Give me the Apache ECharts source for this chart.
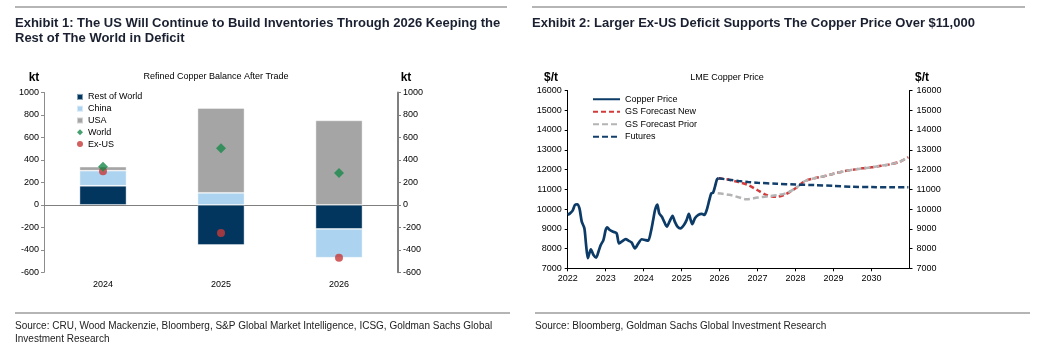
<!DOCTYPE html>
<html>
<head>
<meta charset="UTF-8">
<title>Copper</title>
<script src="https://cdn.jsdelivr.net/npm/echarts@6/dist/echarts.min.js"></script>
<style>
	body { margin: 0; background: #fff; }
	#main { width: 1039px; height: 351px; }
</style>
</head>
<body>
	<div id="main"></div>
	<script type="text/javascript">
		// Exhibit 1 - balance by region (kt)
		var years = [ '2024', '2025', '2026' ];
		var restOfWorld = [ 170, -357, -214 ];
		var china = [ 134, 107, -256 ];
		var usa = [ 36, 755, 752 ];
		var world = [ 340, 505, 283 ];
		var exUS = [ 300, -250, -470 ];

		// Exhibit 2 - LME copper price ($/t), [year fraction, price]
		var copperPrice = [ [ 2022.00, 9700 ], [ 2022.06, 9780 ], [ 2022.13, 9920 ],
				[ 2022.19, 10200 ], [ 2022.25, 10240 ], [ 2022.31, 10030 ],
				[ 2022.37, 9360 ], [ 2022.44, 9020 ], [ 2022.48, 8260 ],
				[ 2022.53, 7510 ], [ 2022.57, 7760 ], [ 2022.61, 7960 ],
				[ 2022.68, 7670 ], [ 2022.75, 7540 ], [ 2022.81, 7840 ],
				[ 2022.87, 8180 ], [ 2022.94, 8430 ], [ 2023.00, 8940 ],
				[ 2023.04, 9070 ], [ 2023.11, 8940 ], [ 2023.20, 8850 ],
				[ 2023.29, 8770 ], [ 2023.35, 8260 ], [ 2023.42, 8350 ],
				[ 2023.53, 8480 ], [ 2023.60, 8400 ], [ 2023.68, 8310 ],
				[ 2023.77, 8010 ], [ 2023.86, 8260 ], [ 2023.95, 8470 ],
				[ 2024.04, 8430 ], [ 2024.12, 8400 ], [ 2024.19, 8850 ],
				[ 2024.25, 9440 ], [ 2024.30, 9950 ], [ 2024.36, 10220 ],
				[ 2024.41, 9780 ], [ 2024.48, 9610 ], [ 2024.54, 9360 ],
				[ 2024.61, 9110 ], [ 2024.68, 9360 ], [ 2024.76, 9660 ],
				[ 2024.82, 9360 ], [ 2024.89, 9110 ], [ 2024.97, 9020 ],
				[ 2025.06, 9190 ], [ 2025.13, 9440 ], [ 2025.19, 9750 ],
				[ 2025.24, 9440 ], [ 2025.28, 9230 ], [ 2025.35, 9530 ],
				[ 2025.44, 9700 ], [ 2025.53, 9750 ], [ 2025.60, 9700 ],
				[ 2025.66, 9950 ], [ 2025.73, 10460 ], [ 2025.78, 10790 ],
				[ 2025.83, 10830 ], [ 2025.88, 11150 ], [ 2025.93, 11500 ],
				[ 2025.97, 11560 ] ];
		var gsForecastNew = [ [ 2025.97, 11560 ], [ 2026.25, 11480 ],
				[ 2026.50, 11360 ], [ 2026.75, 11220 ], [ 2027.00, 10950 ],
				[ 2027.25, 10700 ], [ 2027.50, 10620 ], [ 2027.75, 10760 ],
				[ 2028.00, 11050 ], [ 2028.25, 11420 ], [ 2028.50, 11560 ],
				[ 2028.75, 11660 ], [ 2029.00, 11790 ], [ 2029.25, 11900 ],
				[ 2029.50, 11990 ], [ 2029.75, 12060 ], [ 2030.00, 12110 ],
				[ 2030.25, 12190 ], [ 2030.50, 12270 ], [ 2030.75, 12400 ],
				[ 2030.97, 12630 ] ];
		var gsForecastPrior = [ [ 2025.95, 10800 ], [ 2026.25, 10720 ],
				[ 2026.50, 10600 ], [ 2026.70, 10490 ], [ 2027.00, 10580 ],
				[ 2027.25, 10640 ], [ 2027.50, 10700 ], [ 2027.75, 10800 ],
				[ 2028.00, 11050 ], [ 2028.25, 11420 ], [ 2028.50, 11560 ],
				[ 2028.75, 11660 ], [ 2029.00, 11790 ], [ 2029.25, 11900 ],
				[ 2029.50, 11990 ], [ 2029.75, 12060 ], [ 2030.00, 12110 ],
				[ 2030.25, 12190 ], [ 2030.50, 12270 ], [ 2030.75, 12400 ],
				[ 2030.97, 12630 ] ];
		var futures = [ [ 2025.97, 11560 ], [ 2026.25, 11480 ],
				[ 2026.50, 11420 ], [ 2026.75, 11370 ], [ 2027.00, 11330 ],
				[ 2027.50, 11280 ], [ 2028.00, 11240 ], [ 2028.50, 11210 ],
				[ 2029.00, 11170 ], [ 2029.50, 11130 ], [ 2030.00, 11110 ],
				[ 2030.50, 11100 ], [ 2030.97, 11100 ] ];

		var FONT = 'Liberation Sans, Arial, sans-serif';
		var navy = '#02365f';

		var chart = echarts.init(document.getElementById('main'));

		function txt(x, y, s, size, align, opt) {
			var st = {
				text : s,
				x : x,
				y : y,
				fill : '#000',
				font : (size || 9) + 'px ' + FONT,
				align : align || 'left',
				verticalAlign : 'middle'
			};
			if (opt) {
				for ( var k in opt)
					st[k] = opt[k];
			}
			return {
				type : 'text',
				silent : true,
				style : st
			};
		}
		function hline(x1, x2, y) {
			return {
				type : 'line',
				silent : true,
				shape : {
					x1 : x1,
					y1 : y,
					x2 : x2,
					y2 : y
				},
				style : {
					stroke : '#9c9c9c',
					lineWidth : 1.5
				}
			};
		}
		// plain numbers on the value axes, no thousands separator
		function plain(v) {
			return String(v);
		}

		var exhibitTitle = {
			fontFamily : FONT,
			fontWeight : 'bold',
			fontSize : 13,
			lineHeight : 15.5,
			color : '#1a2030'
		};

		chart.setOption({
			animation : false,
			textStyle : {
				fontFamily : FONT
			},
			title : [ {
				text : 'Exhibit 1: The US Will Continue to Build Inventories Through 2026 Keeping the\nRest of The World in Deficit',
				left : 15,
				top : 15.5,
				padding : 0,
				textStyle : exhibitTitle
			}, {
				text : 'Exhibit 2: Larger Ex-US Deficit Supports The Copper Price Over $11,000',
				left : 532,
				top : 15.5,
				padding : 0,
				textStyle : exhibitTitle
			} ],
			graphic : [ hline(15, 507, 7), hline(532, 1025, 7),
					hline(15, 510, 313), hline(535, 1030, 313),
					txt(216, 77, 'Refined Copper Balance After Trade', 9, 'center'),
					txt(727, 78, 'LME Copper Price', 9, 'center'),
					txt(34, 78, 'kt', 9, 'center', { fontWeight : 'bold' }),
					txt(406, 78, 'kt', 9, 'center', { fontWeight : 'bold' }),
					txt(551, 78, '$/t', 9, 'center', { fontWeight : 'bold' }),
					txt(922, 78, '$/t', 9, 'center', { fontWeight : 'bold' }),
					txt(15, 326, 'Source: CRU, Wood Mackenzie, Bloomberg, S&P Global Market Intelligence, ICSG, Goldman Sachs Global', 10, 'left', { fill : '#222' }),
					txt(15, 339, 'Investment Research', 10, 'left', { fill : '#222' }),
					txt(535, 326, 'Source: Bloomberg, Goldman Sachs Global Investment Research', 10, 'left', { fill : '#222' }) ],
			legend : [ {
				orient : 'vertical',
				left : 76,
				top : 91,
				padding : 0,
				itemGap : 0,
				itemWidth : 6,
				itemHeight : 6,
				textStyle : {
					fontSize : 9,
					lineHeight : 11.8,
					color : '#000'
				},
				data : [ {
					name : 'Rest of World',
					icon : 'rect'
				}, {
					name : 'China',
					icon : 'rect'
				}, {
					name : 'USA',
					icon : 'rect'
				}, {
					name : 'World',
					icon : 'diamond'
				}, {
					name : 'Ex-US',
					icon : 'circle'
				} ]
			}, {
				orient : 'vertical',
				left : 592,
				top : 93,
				padding : 0,
				itemGap : 0,
				itemWidth : 27,
				itemHeight : 8,
				itemStyle : {
					color : 'rgba(0,0,0,0)',
					borderColor : 'rgba(0,0,0,0)',
					borderWidth : 0
				},
				textStyle : {
					fontSize : 9,
					lineHeight : 12.5,
					color : '#000'
				},
				data : [ 'Copper Price', 'GS Forecast New', 'GS Forecast Prior',
						'Futures' ]
			} ],
			grid : [ {
				left : 44,
				right : 641,
				top : 92.5,
				bottom : 78.7
			}, {
				left : 567.7,
				right : 129.5,
				top : 90.5,
				bottom : 82.7
			} ],
			xAxis : [ {
				gridIndex : 0,
				type : 'category',
				data : years,
				axisLine : {
					onZero : true,
					lineStyle : {
						color : '#7f7f7f',
						width : 1
					}
				},
				axisTick : {
					length : 3,
					lineStyle : {
						color : '#7f7f7f'
					}
				},
				axisLabel : {
					show : false
				}
			}, {
				gridIndex : 0,
				type : 'category',
				data : years,
				position : 'bottom',
				axisLine : {
					show : false,
					onZero : false
				},
				axisTick : {
					show : false
				},
				axisLabel : {
					margin : 8,
					fontSize : 9,
					color : '#000'
				}
			}, {
				gridIndex : 1,
				type : 'value',
				min : 2022,
				max : 2031,
				interval : 1,
				splitLine : {
					show : false
				},
				axisLine : {
					lineStyle : {
						color : '#000',
						width : 1
					}
				},
				axisTick : {
					length : 3,
					lineStyle : {
						color : '#000'
					}
				},
				axisLabel : {
					margin : 6,
					fontSize : 9,
					color : '#000',
					showMaxLabel : false,
					formatter : function(v) {
						return v < 2031 ? String(v) : '';
					}
				}
			} ],
			yAxis : [ {
				gridIndex : 0,
				type : 'value',
				min : -600,
				max : 1000,
				interval : 200,
				splitLine : {
					show : false
				},
				axisLine : {
					show : true,
					lineStyle : {
						color : '#8c8c8c'
					}
				},
				axisTick : {
					show : true,
					length : 3,
					lineStyle : {
						color : '#8c8c8c'
					}
				},
				axisLabel : {
					margin : 5,
					fontSize : 9,
					color : '#000',
					formatter : plain
				}
			}, {
				gridIndex : 0,
				type : 'value',
				position : 'right',
				min : -600,
				max : 1000,
				interval : 200,
				splitLine : {
					show : false
				},
				axisLine : {
					show : true,
					lineStyle : {
						color : '#7f7f7f',
						width : 2
					}
				},
				axisTick : {
					show : true,
					length : 3,
					lineStyle : {
						color : '#7f7f7f'
					}
				},
				axisLabel : {
					margin : 5,
					fontSize : 9,
					color : '#000',
					formatter : plain
				}
			}, {
				gridIndex : 1,
				type : 'value',
				min : 7000,
				max : 16000,
				interval : 1000,
				splitLine : {
					show : false
				},
				axisLine : {
					show : true,
					lineStyle : {
						color : '#000'
					}
				},
				axisTick : {
					show : true,
					length : 3,
					lineStyle : {
						color : '#000'
					}
				},
				axisLabel : {
					margin : 6,
					fontSize : 9,
					color : '#000',
					formatter : plain
				}
			}, {
				gridIndex : 1,
				type : 'value',
				position : 'right',
				min : 7000,
				max : 16000,
				interval : 1000,
				splitLine : {
					show : false
				},
				axisLine : {
					show : true,
					lineStyle : {
						color : '#000'
					}
				},
				axisTick : {
					show : true,
					length : 3,
					lineStyle : {
						color : '#000'
					}
				},
				axisLabel : {
					margin : 7,
					fontSize : 9,
					color : '#000',
					formatter : plain
				}
			} ],
			series : [ {
				name : 'Rest of World',
				type : 'bar',
				stack : 'bal',
				xAxisIndex : 0,
				yAxisIndex : 0,
				barWidth : 47,
				itemStyle : {
					color : navy,
					borderColor : 'rgba(255,255,255,0.5)',
					borderWidth : 0.8
				},
				data : restOfWorld
			}, {
				name : 'China',
				type : 'bar',
				stack : 'bal',
				xAxisIndex : 0,
				yAxisIndex : 0,
				barWidth : 47,
				itemStyle : {
					color : '#acd3ef',
					borderColor : 'rgba(255,255,255,0.5)',
					borderWidth : 0.8
				},
				data : china
			}, {
				name : 'USA',
				type : 'bar',
				stack : 'bal',
				xAxisIndex : 0,
				yAxisIndex : 0,
				barWidth : 47,
				itemStyle : {
					color : '#a5a5a5',
					borderColor : 'rgba(255,255,255,0.5)',
					borderWidth : 0.8
				},
				data : usa
			}, {
				name : 'World',
				type : 'scatter',
				xAxisIndex : 0,
				yAxisIndex : 0,
				symbol : 'diamond',
				symbolSize : 10,
				itemStyle : {
					color : '#198a4b'
				},
				z : 5,
				data : world
			}, {
				name : 'Ex-US',
				type : 'scatter',
				xAxisIndex : 0,
				yAxisIndex : 0,
				symbol : 'circle',
				symbolSize : 8,
				itemStyle : {
					color : '#c53a3a'
				},
				z : 4,
				data : exUS
			}, {
				name : 'Copper Price',
				type : 'line',
				xAxisIndex : 2,
				yAxisIndex : 2,
				symbol : 'none',
				smooth : 0.25,
				lineStyle : {
					color : '#0b3b66',
					width : 2.7
				},
				itemStyle : {
					color : '#0b3b66'
				},
				data : copperPrice
			}, {
				name : 'GS Forecast New',
				type : 'line',
				xAxisIndex : 2,
				yAxisIndex : 2,
				symbol : 'none',
				smooth : 0.3,
				lineStyle : {
					color : '#d33b3b',
					width : 2.5,
					type : [ 5, 3 ]
				},
				itemStyle : {
					color : '#d33b3b'
				},
				data : gsForecastNew
			}, {
				name : 'GS Forecast Prior',
				type : 'line',
				xAxisIndex : 2,
				yAxisIndex : 2,
				symbol : 'none',
				smooth : 0.3,
				lineStyle : {
					color : '#b4b4b4',
					width : 2.5,
					type : [ 6, 3 ]
				},
				itemStyle : {
					color : '#b4b4b4'
				},
				data : gsForecastPrior
			}, {
				name : 'Futures',
				type : 'line',
				xAxisIndex : 2,
				yAxisIndex : 2,
				symbol : 'none',
				smooth : 0.3,
				lineStyle : {
					color : '#123f6b',
					width : 2.5,
					type : [ 6, 3 ]
				},
				itemStyle : {
					color : '#123f6b'
				},
				data : futures
			} ]
		});
	</script>
</body>
</html>
